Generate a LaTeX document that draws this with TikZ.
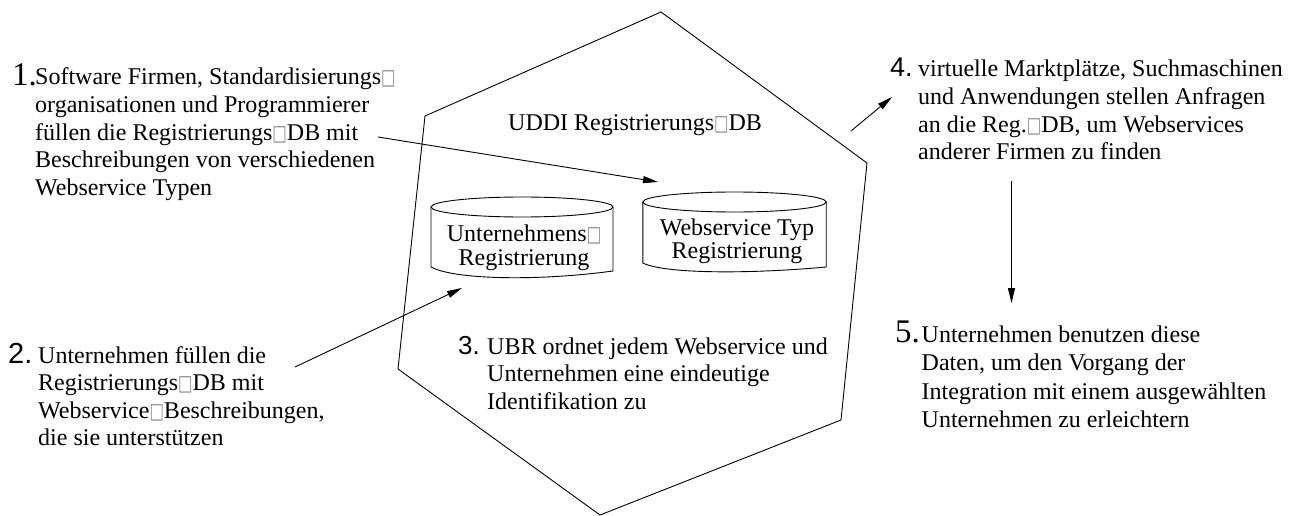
\documentclass[tikz,border=0pt]{standalone}
\usepackage{fontspec}
\usepackage{graphicx}
\setmainfont{Liberation Serif}
\newfontfamily\numsans{Liberation Sans}
\newfontfamily\symfont{DejaVu Sans}
\usetikzlibrary{arrows.meta}

% placeholder box glyph used inside compound words
\newcommand\gap{\textcolor{black!45}{\scalebox{0.85}[1.2]{\symfont\fontsize{18}{18}\selectfont □}}}
% stacked lines whose baseline is the first line
\newcommand\txtlines[2][l]{\begin{tabular}[t]{@{}#1@{}}#2\end{tabular}}

\tikzset{
  body/.style={inner sep=0pt, anchor=base west, font=\fontsize{24}{27.6}\selectfont},
  numserif/.style={inner sep=0pt, font=\fontsize{33}{33}\selectfont},
  numsf/.style={inner sep=0pt, font=\numsans\fontsize{28}{28}\selectfont},
  link/.style={-{Triangle[length=15pt,width=7pt]}, line width=0.9pt},
  outline/.style={line width=0.9pt},
}

\begin{document}
\begin{tikzpicture}[x=1pt,y=-1pt]
\fill[white] (0,0) rectangle (1291,516);
\useasboundingbox (0,0) rectangle (1291,516);

% registry outline
\draw[outline] (661,12) -- (867,163) -- (841,420) -- (600,515) -- (398,369) -- (425,116) -- cycle;

\node[inner sep=0pt, anchor=base west, font=\fontsize{24}{24}\selectfont] (title) at (508,131) {UDDI Registrierungs\gap DB};

% left database
\draw[outline] (522,207) ellipse [x radius=91, y radius=10];
\draw[outline] (431,207) -- (431,267) .. controls (455,280) and (540,281) .. (613,271) -- (613,207);
\node[inner sep=0pt, anchor=base, font=\fontsize{24}{24}\selectfont] (dbA) at (524,241) {\txtlines[c]{Unternehmens\gap\\Registrierung}};

% right database
\draw[outline] (734.5,202) ellipse [x radius=91.7, y radius=10];
\draw[outline] (642.8,202) -- (642.8,263) .. controls (665,274) and (750,274) .. (826.2,267) -- (826.2,202);
\node[inner sep=0pt, anchor=base, font=\fontsize{24}{24}\selectfont] (dbB) at (737,235) {\txtlines[c]{Webservice Typ\\Registrierung}};

% step 1
\node[numserif, anchor=base west] (n1) at (12,86) {1.};
\node[body] (t1) at (35,85) {\txtlines{Software Firmen, Standardisierungs\gap\\organisationen und Programmierer\\füllen die Registrierungs\gap DB mit\\Beschreibungen von verschiedenen\\Webservice Typen}};

% step 2
\node[numsf, font=\numsans\fontsize{29}{29}\selectfont, anchor=base west] (n2) at (8,363) {2.};
\node[body] (t2) at (38,363) {\txtlines{Unternehmen füllen die\\Registrierungs\gap DB mit\\Webservice\gap Beschreibungen,\\die sie unterstützen}};

% step 3
\node[numsf, font=\numsans\fontsize{26}{26}\selectfont, anchor=base west] (n3) at (458,354) {3.};
\node[body] (t3) at (487,354) {\txtlines{UBR ordnet jedem Webservice und\\Unternehmen eine eindeutige\\Identifikation zu}};

% step 4
\node[numsf, font=\numsans\fontsize{27}{27}\selectfont, anchor=base west] (n4) at (890,77) {4.};
\node[body] (t4) at (918,77) {\txtlines{virtuelle Marktplätze, Suchmaschinen\\und Anwendungen stellen Anfragen\\an die Reg.\gap DB, um Webservices\\anderer Firmen zu finden}};

% step 5
\node[numserif, anchor=base east] (n5) at (920,342.5) {5.};
\node[body, font=\fontsize{24}{28.4}\selectfont] (t5) at (921.5,342.5) {\txtlines{Unternehmen benutzen diese\\Daten, um den Vorgang der\\Integration mit einem ausgewählten\\Unternehmen zu erleichtern}};

% connector end points
\coordinate (a1s) at (378,137);
\coordinate (a1e) at (658,182);
\coordinate (a2s) at (295,367);
\coordinate (a2e) at (462,288);
\coordinate (a4s) at (851,131);
\coordinate (a4e) at (892,97);
\coordinate (a5s) at (1011.5,181);
\coordinate (a5e) at (1011.5,303);

\draw[link] (a1s) -- (a1e);
\draw[link] (a2s) -- (a2e);
\draw[link] (a4s) -- (a4e);
\draw[link] (a5s) -- (a5e);
\end{tikzpicture}
\end{document}
